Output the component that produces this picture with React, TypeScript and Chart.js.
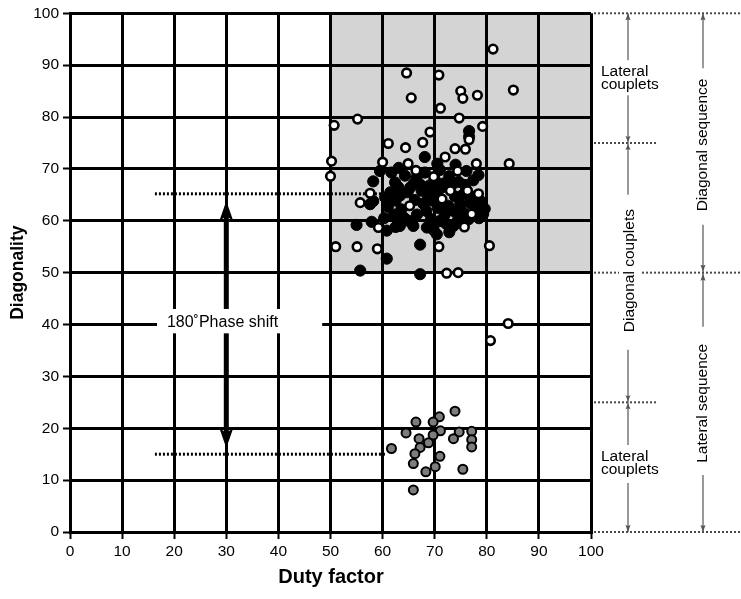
import React, { useEffect, useRef } from "react";
import { Chart, registerables } from "chart.js";

Chart.register(...registerables);

// ---- data ----
const openX = [81.2,64.6,70.8,65.5,75,75.4,78.2,85.1,71.1,50.7,55.2,74.7,79.2,69.1,76.6,67.7,61.1,64.4,73.9,75.9,72,50.2,60,64.9,78,84.3,50,66.4,74.4,69.8,57.6,55.7,73,76.3,78.4,71.4,65.2,77.1,75.7,59.2,51,55.1,59,70.8,80.5,72.3,74.5,84.1,80.7];
const openY = [93.1,88.5,88.1,83.7,85,83.6,84.2,85.2,81.7,78.4,79.6,79.8,78.2,77.1,75.6,75.1,74.9,74.1,73.9,73.8,72.3,71.5,71.3,71,71,71,68.6,69.7,69.6,68.5,65.3,63.5,65.8,65.8,65.2,64.2,62.9,61.3,58.8,58.7,55,55,54.6,55,55.2,49.9,50,40.2,36.9];

const blackX = [68.1,76.6,76.6,59.5,61.7,64.3,68.1,71,76.1,58.2,62.4,67.2,58.2,57.6,55,57.9,60.8,63.3,65.9,68.5,70.4,73.6,79.3,67.2,60.8,55.7,67.2,
  63,64.8,66,67.5,69,70.2,71.8,73.2,74.6,75.8,77.4,78.8,79.6,62.5,63.6,64.1,66.6,67.8,68.4,69.5,70.6,71.9,72.6,73.8,74.9,75.6,76.8,77.9,69.3,70.8,72.2,74.5,62.2,61,60.3,63.4,66.2,68.7,71.2,73.9,75.5,77.5,65.3,76.5,78.5,61.5,60.5,70,72.8,66.5,78.4,74,70.5,63.1,65,62.5,69.8,72.8];
const blackY = [72.3,77.3,76.2,69.6,69.3,68.7,69.3,69.8,69.6,67.6,67.4,67,63.8,63.2,59.2,59.8,58.1,59,59,58.7,57.4,59,61.3,55.4,52.7,50.4,49.7,
  66.5,65.5,67.2,65.8,66.8,65.5,67.2,66.8,67.5,66.9,67.8,63.8,62.3,63.9,62.2,60.6,61.2,63.3,61.9,63.9,62.5,61.1,62.9,61.8,63.2,61.5,63.4,62.4,60.3,59.9,59.4,60.2,61.2,62.7,60.5,64.9,64,64.8,66.3,64.7,65.1,64.6,66.4,60.3,60.5,65.5,64.5,68,68.6,68.3,68.8,70.8,71,70.2,60,58.8,58.2,57.8];

const grayX = [73.9,70.9,66.4,69.7,64.5,71.1,74.7,77.1,69.7,67,73.6,77.1,68.8,67.2,77.1,61.7,66.2,71,65.9,70.1,68.3,75.4,65.9];
const grayY = [23.3,22.2,21.2,21.2,19.1,19.5,19.3,19.4,18.7,18,18,17.8,17.2,16.3,16.4,16.1,15.1,14.6,13.2,12.6,11.6,12.1,8.1];

const axisMin = 0;
const axisMax = 100;
const tickStep = 10;

const xTitle = "Duty factor";
const yTitle = "Diagonality";
const phaseLabel = "180\u02DAPhase shift";

const FONT = '"Liberation Sans", Arial, Helvetica, sans-serif';

const toPts = (xs: number[], ys: number[]) => xs.map((v, i) => ({ x: v, y: ys[i] }));

function arrowHead(ctx: CanvasRenderingContext2D, x: number, tipY: number, dir: number, len: number, half: number, notch: number) {
  ctx.beginPath();
  ctx.moveTo(x, tipY);
  ctx.lineTo(x - half, tipY - dir * len);
  ctx.lineTo(x, tipY - dir * (len - notch));
  ctx.lineTo(x + half, tipY - dir * len);
  ctx.closePath();
  ctx.fill();
}

function vline(ctx: CanvasRenderingContext2D, x: number, y0: number, y1: number) {
  ctx.beginPath();
  ctx.moveTo(x, y0);
  ctx.lineTo(x, y1);
  ctx.stroke();
}

function hline(ctx: CanvasRenderingContext2D, x0: number, x1: number, y: number) {
  ctx.beginPath();
  ctx.moveTo(x0, y);
  ctx.lineTo(x1, y);
  ctx.stroke();
}

const annotPlugin = {
  id: "annot",
  beforeDraw(chart: any) {
    const { ctx, scales } = chart;
    const xs = scales.x, ys = scales.y;
    const x0 = xs.getPixelForValue(50), x1 = xs.getPixelForValue(100);
    const y0 = ys.getPixelForValue(100), y1 = ys.getPixelForValue(50);
    ctx.save();
    ctx.fillStyle = "#d4d4d4";
    ctx.fillRect(x0, y0, x1 - x0, y1 - y0);
    ctx.restore();
  },
  beforeDatasetsDraw(chart: any) {
    const { ctx, scales } = chart;
    const xs = scales.x, ys = scales.y;
    ctx.save();
    // dotted reference lines
    ctx.strokeStyle = "#000";
    ctx.lineWidth = 3;
    ctx.setLineDash([2, 2]);
    hline(ctx, xs.getPixelForValue(16.3), xs.getPixelForValue(62), ys.getPixelForValue(65.2));
    hline(ctx, xs.getPixelForValue(16.3), xs.getPixelForValue(60.5), ys.getPixelForValue(15));
    ctx.setLineDash([]);
    // phase shift arrow
    const ax = xs.getPixelForValue(30);
    const tTop = ys.getPixelForValue(63.8);
    const tBot = ys.getPixelForValue(16.2);
    ctx.lineWidth = 5;
    vline(ctx, ax, tTop + 14, tBot - 14);
    ctx.fillStyle = "#000";
    arrowHead(ctx, ax, tTop, -1, 20, 7, 5);
    arrowHead(ctx, ax, tBot, 1, 20, 7, 5);
    // white label box
    const bx0 = xs.getPixelForValue(16.7), bx1 = xs.getPixelForValue(48.4);
    const by0 = ys.getPixelForValue(43), by1 = ys.getPixelForValue(38.3);
    ctx.fillStyle = "#fff";
    ctx.fillRect(bx0, by0, bx1 - bx0, by1 - by0);
    ctx.fillStyle = "#000";
    ctx.font = "16px " + FONT;
    ctx.textAlign = "left";
    ctx.textBaseline = "middle";
    ctx.fillText(phaseLabel, xs.getPixelForValue(18.6), ys.getPixelForValue(40.4));
    ctx.restore();
  },
  afterDraw(chart: any) {
    const { ctx, scales, chartArea, width } = chart;
    const ys = scales.y;
    const R = chartArea.right;
    const yp = (v: number) => ys.getPixelForValue(v);
    ctx.save();
    // right dotted lines
    ctx.strokeStyle = "#4a4a4a";
    ctx.lineWidth = 2;
    ctx.setLineDash([2, 2]);
    hline(ctx, R + 3, width, yp(100));
    hline(ctx, R + 3, R + 65, yp(75));
    hline(ctx, R + 3, R + 28, yp(50));
    hline(ctx, R + 51, width, yp(50));
    hline(ctx, R + 3, R + 65, yp(25));
    hline(ctx, R + 3, width, yp(0));
    ctx.setLineDash([]);

    // inner vertical line (couplets)
    const ix = R + 37;
    ctx.strokeStyle = "#555";
    ctx.fillStyle = "#555";
    ctx.lineWidth = 1.2;
    vline(ctx, ix, yp(100), yp(100) + 47);
    vline(ctx, ix, yp(100) + 82, yp(50) - 78);
    vline(ctx, ix, yp(50) + 77, yp(0) - 87);
    vline(ctx, ix, yp(0) - 49, yp(0));
    arrowHead(ctx, ix, yp(100), -1, 7, 2.5, 1);
    arrowHead(ctx, ix, yp(75) - 1, 1, 6, 2.5, 1);
    arrowHead(ctx, ix, yp(75) + 1, -1, 6, 2.5, 1);
    arrowHead(ctx, ix, yp(25) - 1, 1, 6, 2.5, 1);
    arrowHead(ctx, ix, yp(25) + 1, -1, 6, 2.5, 1);
    arrowHead(ctx, ix, yp(0), 1, 7, 2.5, 1);

    // outer vertical line (sequences)
    const ox = R + 112;
    vline(ctx, ox, yp(100), yp(100) + 55);
    vline(ctx, ox, yp(50) - 48, yp(50));
    vline(ctx, ox, yp(50), yp(50) + 54);
    vline(ctx, ox, yp(0) - 57, yp(0));
    arrowHead(ctx, ox, yp(100), -1, 7, 2.5, 1);
    arrowHead(ctx, ox, yp(50) - 1, 1, 7, 2.5, 1);
    arrowHead(ctx, ox, yp(50) + 1, -1, 7, 2.5, 1);
    arrowHead(ctx, ox, yp(0), 1, 7, 2.5, 1);

    // texts
    ctx.fillStyle = "#000";
    ctx.font = "15.5px " + FONT;
    ctx.textAlign = "left";
    ctx.textBaseline = "alphabetic";
    ctx.fillText("Lateral", R + 10, yp(100) + 63);
    ctx.fillText("couplets", R + 10, yp(100) + 76);
    ctx.fillText("Lateral", R + 10, yp(0) - 71);
    ctx.fillText("couplets", R + 10, yp(0) - 58);

    const rot = (t: string, cx: number, cy: number) => {
      ctx.save();
      ctx.translate(cx, cy);
      ctx.rotate(-Math.PI / 2);
      ctx.textAlign = "center";
      ctx.textBaseline = "middle";
      ctx.fillText(t, 0, 0);
      ctx.restore();
    };
    rot("Diagonal couplets", ix + 2, yp(50) - 2);
    rot("Diagonal sequence", ox, yp(75) + 2);
    rot("Lateral sequence", ox, yp(25) + 1);

    // axis titles
    ctx.font = "bold 17.5px " + FONT;
    rot(yTitle, 18, yp(50));
    ctx.font = "bold 20px " + FONT;
    ctx.textAlign = "center";
    ctx.textBaseline = "middle";
    ctx.fillText(xTitle, (chartArea.left + chartArea.right) / 2 + 0.5, 577);
    ctx.restore();
  },
};

export default function App() {
  const ref = useRef<HTMLCanvasElement | null>(null);
  useEffect(() => {
    if (!ref.current) return;
    Chart.defaults.font.family = FONT;
    const chart = new Chart(ref.current, {
      type: "scatter",
      data: {
        datasets: [
          {
            label: "open",
            data: toPts(openX, openY),
            pointRadius: 4.3,
            pointBorderWidth: 2.6,
            pointBackgroundColor: "#fff",
            pointBorderColor: "#000",
          },
          {
            label: "black",
            data: toPts(blackX, blackY),
            pointRadius: 5.6,
            pointBorderWidth: 1,
            pointBackgroundColor: "#000",
            pointBorderColor: "#000",
          },
          {
            label: "gray",
            data: toPts(grayX, grayY),
            pointRadius: 4.5,
            pointBorderWidth: 2,
            pointBackgroundColor: "#7d7d7d",
            pointBorderColor: "#000",
          },
        ],
      },
      options: {
        responsive: false,
        animation: false,
        layout: { padding: { left: 0, right: 150, top: 12, bottom: 0 } },
        plugins: { legend: { display: false }, tooltip: { enabled: false } },
        scales: {
          x: {
            type: "linear",
            min: axisMin,
            max: axisMax,
            afterFit: (s: any) => { s.height = 67; },
            ticks: { stepSize: tickStep, color: "#000", font: { size: 15.5 }, padding: 3, maxRotation: 0 },
            grid: { color: "#000", lineWidth: 3, tickLength: 7, tickColor: "#000", tickWidth: 2 },
            border: { display: true, color: "#000", width: 3 },
          },
          y: {
            type: "linear",
            min: axisMin,
            max: axisMax,
            afterFit: (s: any) => { s.width = 70; },
            ticks: { stepSize: tickStep, color: "#000", font: { size: 15.5 }, padding: 4 },
            grid: { color: "#000", lineWidth: 3, tickLength: 7, tickColor: "#000", tickWidth: 2 },
            border: { display: true, color: "#000", width: 3 },
          },
        },
      },
      plugins: [annotPlugin],
    } as any);
    return () => chart.destroy();
  }, []);
  return (
    <div style={{ position: "absolute", left: 0, top: 0, width: 741, height: 599, background: "#fff" }}>
      <canvas ref={ref} width={741} height={599} />
    </div>
  );
}
